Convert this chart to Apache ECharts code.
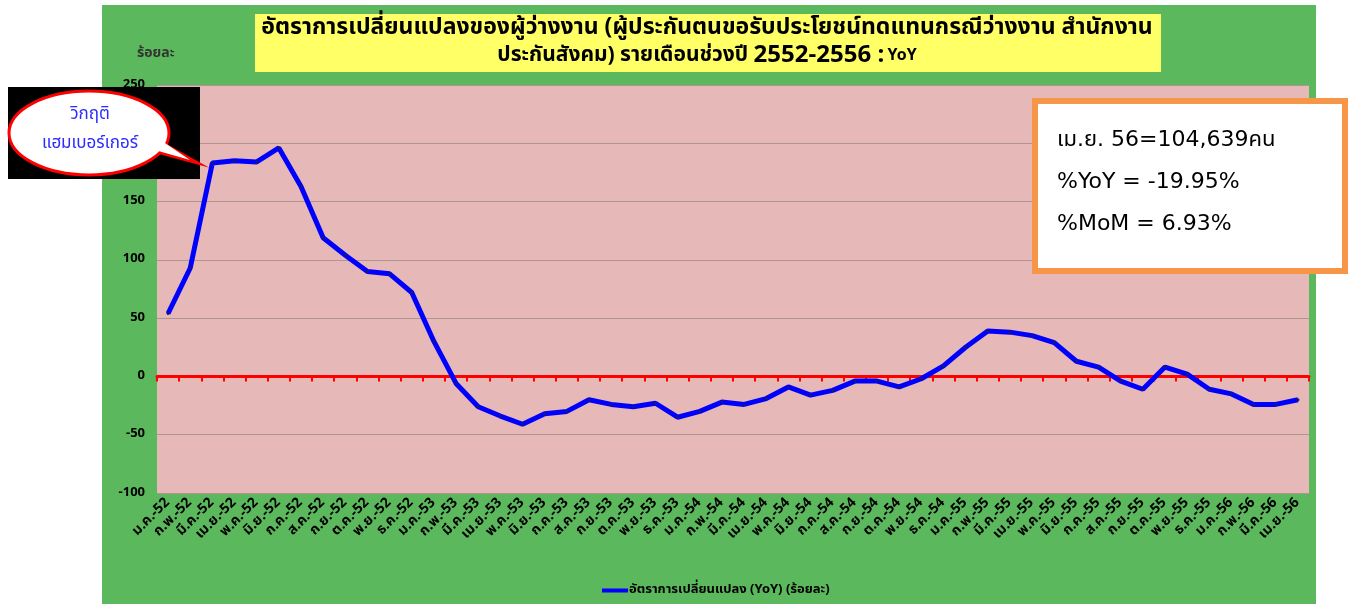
<!DOCTYPE html>
<html>
<head>
<meta charset="utf-8">
<script src="https://cdn.jsdelivr.net/npm/echarts@6/dist/echarts.min.js"></script>
<style>
  html, body { margin: 0; padding: 0; background: #fff; }
  #chart { width: 1348px; height: 604px; }
</style>
</head>
<body>
<div id="chart"></div>
<script>
var months = [
  'ม.ค.-52', 'ก.พ.-52', 'มี.ค.-52', 'เม.ย.-52', 'พ.ค.-52', 'มิ.ย.-52', 'ก.ค.-52', 'ส.ค.-52', 'ก.ย.-52', 'ต.ค.-52', 'พ.ย.-52', 'ธ.ค.-52',
  'ม.ค.-53', 'ก.พ.-53', 'มี.ค.-53', 'เม.ย.-53', 'พ.ค.-53', 'มิ.ย.-53', 'ก.ค.-53', 'ส.ค.-53', 'ก.ย.-53', 'ต.ค.-53', 'พ.ย.-53', 'ธ.ค.-53',
  'ม.ค.-54', 'ก.พ.-54', 'มี.ค.-54', 'เม.ย.-54', 'พ.ค.-54', 'มิ.ย.-54', 'ก.ค.-54', 'ส.ค.-54', 'ก.ย.-54', 'ต.ค.-54', 'พ.ย.-54', 'ธ.ค.-54',
  'ม.ค.-55', 'ก.พ.-55', 'มี.ค.-55', 'เม.ย.-55', 'พ.ค.-55', 'มิ.ย.-55', 'ก.ค.-55', 'ส.ค.-55', 'ก.ย.-55', 'ต.ค.-55', 'พ.ย.-55', 'ธ.ค.-55',
  'ม.ค.-56', 'ก.พ.-56', 'มี.ค.-56', 'เม.ย.-56'
]

// อัตราการเปลี่ยนแปลง YoY (ร้อยละ)
var yoy = [
  54, 93, 183, 185, 184, 196, 163, 119, 104, 90, 88, 72,
  30, -6, -26, -34, -41, -32, -30, -20, -24, -26, -23, -35,
  -30, -22, -24, -19, -9, -16, -12, -4, -4, -9, -2, 9,
  25, 39, 38, 35, 29, 13, 8, -4, -11, 8, 2, -11,
  -15, -24, -24, -19.95
]

var seriesName = 'อัตราการเปลี่ยนแปลง (YoY) (ร้อยละ)'
var titleLine1 = 'อัตราการเปลี่ยนแปลงของผู้ว่างงาน (ผู้ประกันตนขอรับประโยชน์ทดแทนกรณีว่างงาน สำนักงาน'
var titleLine2 = 'ประกันสังคม) รายเดือนช่วงปี '
var infoLines = ['เม.ย. 56=104,639คน', '%YoY = -19.95%', '%MoM = 6.93%']

var thaiFont = "Tahoma, 'Noto Sans Thai', 'Noto Sans', 'DejaVu Sans', sans-serif"
var boxFont = "'DejaVu Sans', 'Noto Sans Thai', 'Noto Sans', sans-serif"

var myChart = echarts.init(document.getElementById('chart'))
var option = {
  backgroundColor: '#ffffff',
  textStyle: { fontFamily: thaiFont },
  animation: false,
  grid: {
    left: 157,
    right: 39,
    top: 85,
    bottom: 111,
    show: true,
    backgroundColor: '#e6b8b7',
    borderWidth: 0
  },
  legend: {
    data: [{ name: seriesName, itemStyle: { color: '#0000ff' } }],
    left: 597,
    top: 579,
    icon: 'rect',
    itemWidth: 26,
    itemHeight: 4,
    itemGap: 0,
    textStyle: { fontSize: 13, fontWeight: 'bold', color: '#000', padding: [0, 0, 0, -4] }
  },
  xAxis: [
    {
      type: 'category',
      data: months,
      axisLine: { show: false, onZero: false },
      axisTick: { show: false },
      axisLabel: {
        interval: 0,
        rotate: 45,
        margin: 8,
        fontSize: 14,
        fontWeight: 'bold',
        color: '#000'
      }
    },
    {
      type: 'category',
      data: months,
      position: 'bottom',
      axisLine: { show: true, onZero: true, lineStyle: { color: '#ff0000', width: 3 } },
      axisTick: { show: true, interval: 0, length: 5, lineStyle: { color: '#ff0000', width: 2 } },
      axisLabel: { show: false }
    }
  ],
  yAxis: {
    type: 'value',
    min: -100,
    max: 250,
    interval: 50,
    name: 'ร้อยละ',
    nameLocation: 'end',
    nameGap: 24,
    nameTextStyle: { fontSize: 14, fontWeight: 'bold', color: '#333', align: 'left', padding: [0, 0, 0, -20] },
    axisLine: { show: false },
    axisTick: { show: false },
    axisLabel: { fontSize: 13, fontWeight: 'bold', color: '#000', margin: 12 },
    splitLine: { lineStyle: { color: '#b09494', width: 1 } }
  },
  series: [
    {
      name: seriesName,
      type: 'line',
      xAxisIndex: 0,
      data: yoy,
      symbol: 'circle',
      symbolSize: 3,
      itemStyle: { color: '#1a1a66', borderWidth: 0 },
      lineStyle: { color: '#0000ff', width: 5 },
      z: 5
    }
  ],
  graphic: [
    // green panel behind everything
    {
      type: 'rect',
      z: -10,
      silent: true,
      shape: { x: 102, y: 5, width: 1214, height: 600 },
      style: { fill: '#5cb85c' }
    },
    // yellow title box
    {
      type: 'rect',
      z: -5,
      silent: true,
      shape: { x: 255, y: 14, width: 906, height: 58 },
      style: { fill: '#ffff66' }
    },
    {
      type: 'text',
      x: 707,
      y: 29,
      silent: true,
      style: {
        text: titleLine1,
        fill: '#000',
        font: 'bold 23px ' + thaiFont,
        textAlign: 'center',
        textVerticalAlign: 'middle'
      }
    },
    {
      type: 'text',
      x: 707,
      y: 57,
      silent: true,
      style: {
        text: '{a|' + titleLine2 + '}{b|2552-2556 :} {c|YoY}',
        textAlign: 'center',
        textVerticalAlign: 'middle',
        rich: {
          a: { fontSize: 21, fontWeight: 'bold', fontFamily: thaiFont, fill: '#000', color: '#000' },
          b: { fontSize: 24, fontWeight: 'bold', fontFamily: thaiFont, fill: '#000', color: '#000' },
          c: { fontSize: 16, fontWeight: 'bold', fontFamily: thaiFont, fill: '#000', color: '#000' }
        }
      }
    },
    // speech bubble
    {
      type: 'rect',
      silent: true,
      z: 20,
      shape: { x: 8, y: 87, width: 192, height: 92 },
      style: { fill: '#000' }
    },
    {
      type: 'polygon',
      silent: true,
      z: 21,
      shape: { points: [[150, 150], [198, 163], [162, 143]] },
      style: { fill: '#fff', stroke: '#ff0000', lineWidth: 3 }
    },
    {
      type: 'ellipse',
      silent: true,
      z: 22,
      shape: { cx: 89, cy: 133, rx: 80, ry: 42 },
      style: { fill: '#fff', stroke: '#ff0000', lineWidth: 3 }
    },
    {
      type: 'polygon',
      silent: true,
      z: 23,
      shape: { points: [[148, 148], [190, 160], [162, 141]] },
      style: { fill: '#fff' }
    },
    {
      type: 'text',
      silent: true,
      z: 24,
      x: 90,
      y: 116,
      style: { text: 'วิกฤติ', fill: '#2b2bff', font: '17px ' + thaiFont, textAlign: 'center', textVerticalAlign: 'middle' }
    },
    {
      type: 'text',
      silent: true,
      z: 24,
      x: 90,
      y: 145,
      style: { text: 'แฮมเบอร์เกอร์', fill: '#2b2bff', font: '17px ' + thaiFont, textAlign: 'center', textVerticalAlign: 'middle' }
    },
    // info box
    {
      type: 'rect',
      silent: true,
      z: 20,
      shape: { x: 1035, y: 101, width: 310, height: 170 },
      style: { fill: '#fff', stroke: '#f79646', lineWidth: 6 }
    },
    {
      type: 'text',
      silent: true,
      z: 21,
      x: 1057,
      y: 140,
      style: { text: infoLines[0], fill: '#000', font: '22px ' + boxFont, textVerticalAlign: 'middle' }
    },
    {
      type: 'text',
      silent: true,
      z: 21,
      x: 1057,
      y: 182,
      style: { text: infoLines[1], fill: '#000', font: '22px ' + boxFont, textVerticalAlign: 'middle' }
    },
    {
      type: 'text',
      silent: true,
      z: 21,
      x: 1057,
      y: 224,
      style: { text: infoLines[2], fill: '#000', font: '22px ' + boxFont, textVerticalAlign: 'middle' }
    }
  ]
}
myChart.setOption(option)
</script>
</body>
</html>
